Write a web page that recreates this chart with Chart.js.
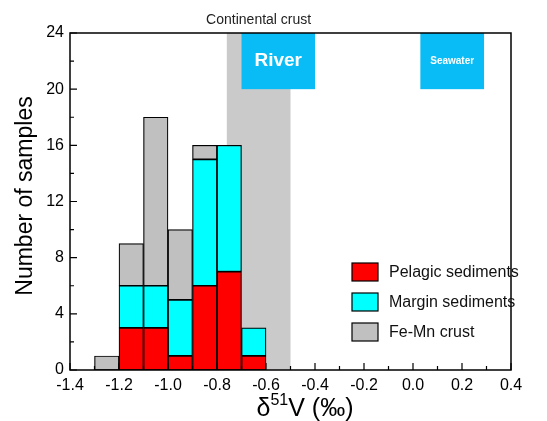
<!DOCTYPE html>
<html>
<head>
<meta charset="utf-8">
<script src="https://cdn.jsdelivr.net/npm/chart.js@4"></script>
<style>
  html, body { margin: 0; padding: 0; background: #fff; }
  #wrap { width: 547px; height: 421px; }
</style>
</head>
<body>
<div id="wrap"><canvas id="histo" width="547" height="421"></canvas></div>
<script>
// bin centres of the histogram (bin width 0.1)
const binCenters = [-1.25, -1.15, -1.05, -0.95, -0.85, -0.75, -0.65];
const pelagic = [null, 3, 3, 1, 6, 7, 1];
const margin = [null, 3, 3, 4, 9, 9, 2];
const feMn = [1, 3, 12, 5, 1, null, null];

const seriesNames = ['Pelagic sediments', 'Margin sediments', 'Fe-Mn crust'];
const seriesColors = ['#ff0000', '#00ffff', '#c0c0c0'];

// reference ranges drawn behind the bars
const crustRange = [-0.76, -0.5];
const riverRange = [-0.7, -0.4];
const seawaterRange = [0.03, 0.29];
const boxYRange = [20, 24];

const FONT = '"Liberation Sans", Arial, sans-serif';

const toPoints = arr => binCenters.map((x, i) => ({ x: x, y: arr[i] }));

const backgroundPlugin = {
    id: 'bands',
    beforeDatasetsDraw(chart) {
        const { ctx, chartArea, scales: { x, y } } = chart;
        ctx.save();
        // continental crust band
        ctx.fillStyle = '#cacaca';
        const cx0 = x.getPixelForValue(crustRange[0]);
        const cx1 = x.getPixelForValue(crustRange[1]);
        ctx.fillRect(cx0, chartArea.top, cx1 - cx0, chartArea.bottom - chartArea.top);
        ctx.fillStyle = '#222';
        ctx.font = '14px ' + FONT;
        ctx.textAlign = 'center';
        ctx.textBaseline = 'middle';
        ctx.fillText('Continental crust', (cx0 + cx1) / 2, chartArea.top - 13);

        // river and seawater boxes
        const drawBox = (range, label, size) => {
            const bx0 = x.getPixelForValue(range[0]);
            const bx1 = x.getPixelForValue(range[1]);
            const by0 = y.getPixelForValue(boxYRange[1]);
            const by1 = y.getPixelForValue(boxYRange[0]);
            ctx.fillStyle = '#0abcf5';
            ctx.fillRect(bx0, by0, bx1 - bx0, by1 - by0);
            ctx.fillStyle = '#fff';
            ctx.font = 'bold ' + size + 'px ' + FONT;
            ctx.fillText(label, (bx0 + bx1) / 2, (by0 + by1) / 2);
        };
        drawBox(riverRange, 'River', 19);
        drawBox(seawaterRange, 'Seawater', 10);
        ctx.restore();
    }
};

const framePlugin = {
    id: 'frame',
    afterDraw(chart) {
        const { ctx, chartArea, scales: { x, y } } = chart;
        const { left, right, top, bottom } = chartArea;
        ctx.save();
        ctx.strokeStyle = '#000';
        ctx.lineWidth = 1.5;
        ctx.strokeRect(left, top, right - left, bottom - top);

        // inward ticks
        ctx.lineWidth = 1.2;
        ctx.beginPath();
        x.ticks.forEach(t => {
            const px = x.getPixelForValue(t.value);
            const major = Math.round(t.value * 10) % 2 === 0;
            ctx.moveTo(px, bottom);
            ctx.lineTo(px, bottom - (major ? 7 : 4));
        });
        y.ticks.forEach(t => {
            const py = y.getPixelForValue(t.value);
            const major = t.value % 4 === 0;
            ctx.moveTo(left, py);
            ctx.lineTo(left + (major ? 7 : 4), py);
        });
        ctx.stroke();

        // legend inside the plot
        ctx.font = '16px ' + FONT;
        ctx.textAlign = 'left';
        ctx.textBaseline = 'middle';
        seriesNames.forEach((name, i) => {
            const ly = 272 + i * 30;
            ctx.fillStyle = seriesColors[i];
            ctx.fillRect(352, ly - 9, 26, 18);
            ctx.lineWidth = 1.2;
            ctx.strokeRect(352, ly - 9, 26, 18);
            ctx.fillStyle = '#111';
            ctx.fillText(name, 389, ly + 1);
        });

        // axis titles
        ctx.fillStyle = '#000';
        ctx.font = '23px ' + FONT;
        ctx.save();
        ctx.translate(26, 196);
        ctx.rotate(-Math.PI / 2);
        ctx.textAlign = 'center';
        ctx.fillText('Number of samples', 0, 0);
        ctx.restore();

        // x title with superscript
        const parts = [['δ', 25, 0], ['51', 16, -8], ['V (‰)', 25, 0]];
        let total = 0;
        parts.forEach(p => { ctx.font = p[1] + 'px ' + FONT; total += ctx.measureText(p[0]).width; });
        let tx = 305 - total / 2;
        parts.forEach(p => {
            ctx.font = p[1] + 'px ' + FONT;
            ctx.fillText(p[0], tx, 409 + p[2]);
            tx += ctx.measureText(p[0]).width;
        });
        ctx.restore();
    }
};

const ctx = document.getElementById('histo').getContext('2d');
new Chart(ctx, {
    type: 'bar',
    data: {
        datasets: [pelagic, margin, feMn].map((arr, i) => ({
            label: seriesNames[i],
            data: toPoints(arr),
            backgroundColor: seriesColors[i],
            borderColor: '#000',
            borderWidth: 1.2,
            borderSkipped: false,
            barPercentage: 1,
            categoryPercentage: 1
        }))
    },
    options: {
        responsive: false,
        animation: false,
        layout: { padding: { left: 0, top: 33, right: 36, bottom: 0 } },
        plugins: { legend: { display: false }, tooltip: { enabled: false } },
        scales: {
            x: {
                type: 'linear',
                stacked: true,
                offset: false,
                min: -1.4,
                max: 0.4,
                grid: { display: false, drawTicks: false },
                border: { display: false },
                afterFit: s => { s.height = 51; },
                ticks: {
                    stepSize: 0.1,
                    autoSkip: false,
                    maxRotation: 0,
                    padding: 6,
                    color: '#000',
                    font: { family: FONT, size: 16 },
                    callback: v => Math.round(v * 10) % 2 === 0 ? v.toFixed(1) : ''
                }
            },
            y: {
                stacked: true,
                min: 0,
                max: 24,
                grid: { display: false, drawTicks: false },
                border: { display: false },
                afterFit: s => { s.width = 70; },
                ticks: {
                    stepSize: 2,
                    autoSkip: false,
                    padding: 6,
                    color: '#000',
                    font: { family: FONT, size: 16 },
                    callback: v => v % 4 === 0 ? v : ''
                }
            }
        }
    },
    plugins: [backgroundPlugin, framePlugin]
});
</script>
</body>
</html>
